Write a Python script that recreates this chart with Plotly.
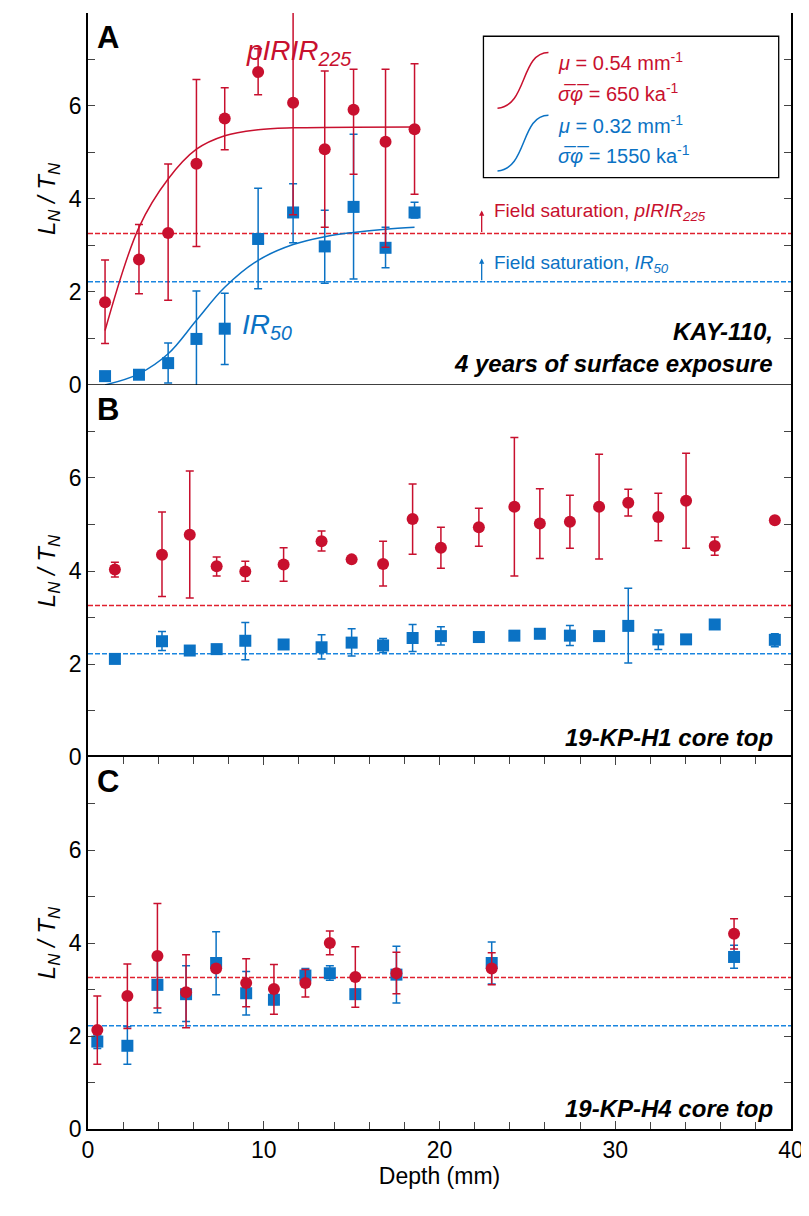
import plotly.graph_objects as go

RED = "#c8102e"
BLUE = "#0b72c4"
FONT = "Liberation Sans"

# Panel A: KAY-110
a_depth = [0.97, 2.9, 4.56, 6.17, 7.78, 9.68, 11.67, 13.47, 15.11, 16.93, 18.58]
a_red = [1.78, 2.70, 3.27, 4.76, 5.73, 6.73, 6.07, 5.07, 5.92, 5.23, 5.50]
a_red_hi = [2.69, 3.45, 4.75, 6.57, 6.39, 7.23, 8.48, 6.75, 6.79, 6.79, 6.91]
a_red_lo = [0.89, 1.96, 1.82, 2.98, 5.06, 6.24, 3.66, 3.39, 4.53, 2.96, 4.10]
a_blue = [0.19, 0.22, 0.47, 0.99, 1.21, 3.14, 3.71, 2.98, 3.83, 2.95, 3.71]
a_blue_hi = [0.19, 0.22, 0.90, 2.02, 1.97, 4.23, 4.33, 3.76, 5.39, 3.39, 3.93]
a_blue_lo = [0.19, 0.22, 0.04, -0.04, 0.44, 2.07, 3.06, 2.19, 2.28, 2.52, 3.59]

# fitted curves
fit_red_x = [0.97, 2.9, 4.56, 6.17, 7.78, 9.68, 11.67, 18.58]
fit_red_y = [1.17, 3.39, 4.43, 5.07, 5.36, 5.49, 5.53, 5.55]
fit_blue_x = [0.97, 2.9, 4.56, 6.17, 7.78, 9.68, 11.67, 13.47, 15.11, 16.93, 18.58]
fit_blue_y = [0.0, 0.24, 0.67, 1.39, 2.10, 2.68, 3.02, 3.19, 3.28, 3.35, 3.39]

# Panel B: 19-KP-H1
b_depth = [1.53, 4.21, 5.79, 7.32, 8.95, 11.13, 13.29, 15.0, 16.79, 18.47, 20.08,
           22.24, 24.26, 25.71, 27.42, 29.08, 30.74, 32.45, 34.03, 35.66, 39.08]
b_red = [4.03, 4.35, 4.78, 4.10, 3.99, 4.14, 4.64, 4.25, 4.15, 5.12, 4.50,
         4.94, 5.38, 5.02, 5.06, 5.38, 5.47, 5.16, 5.51, 4.54, 5.09]
b_red_hi = [4.19, 5.27, 6.15, 4.30, 4.21, 4.50, 4.86, 4.25, 4.64, 5.87, 4.94,
            5.35, 6.87, 5.77, 5.63, 6.51, 5.76, 5.67, 6.53, 4.73, 5.09]
b_red_lo = [3.87, 3.45, 3.42, 3.89, 3.78, 3.78, 4.43, 4.25, 3.68, 4.36, 4.06,
            4.53, 3.89, 4.27, 4.49, 4.26, 5.18, 4.65, 4.49, 4.34, 5.09]
b_blue = [2.11, 2.49, 2.29, 2.32, 2.50, 2.42, 2.36, 2.46, 2.40, 2.56, 2.60,
          2.58, 2.61, 2.65, 2.61, 2.60, 2.82, 2.53, 2.53, 2.85, 2.52]
b_blue_hi = [2.11, 2.70, 2.39, 2.40, 2.89, 2.50, 2.63, 2.76, 2.55, 2.85, 2.80,
             2.58, 2.61, 2.65, 2.83, 2.60, 3.63, 2.73, 2.53, 2.85, 2.65]
b_blue_lo = [2.11, 2.29, 2.19, 2.24, 2.09, 2.34, 2.11, 2.17, 2.25, 2.27, 2.41,
             2.58, 2.61, 2.65, 2.40, 2.60, 2.02, 2.31, 2.53, 2.85, 2.37]

# Panel C: 19-KP-H4
c_depth = [0.53, 2.24, 3.95, 5.58, 7.29, 9.0, 10.58, 12.37, 13.76, 15.21, 17.55, 22.97, 36.76]
c_red = [2.13, 2.86, 3.72, 2.94, 3.45, 3.14, 3.01, 3.14, 4.00, 3.27, 3.35, 3.45, 4.20]
c_red_hi = [2.86, 3.55, 4.85, 3.75, 3.45, 3.66, 3.54, 3.43, 4.26, 3.92, 3.80, 3.79, 4.52]
c_red_lo = [1.39, 2.16, 2.60, 2.18, 3.45, 2.63, 2.47, 2.84, 3.75, 2.62, 2.91, 3.10, 3.87]
c_blue = [1.88, 1.79, 3.10, 2.90, 3.57, 2.92, 2.78, 3.30, 3.35, 2.90, 3.32, 3.57, 3.70]
c_blue_hi = [2.02, 2.20, 3.70, 3.51, 4.24, 3.39, 2.88, 3.45, 3.51, 3.00, 3.93, 4.02, 3.95]
c_blue_lo = [1.73, 1.39, 2.50, 2.31, 2.89, 2.45, 2.68, 3.15, 3.20, 2.80, 2.71, 3.12, 3.46]

sat_red = 3.26
sat_blue = 2.22

fig = go.Figure()


def add_points(x, y, hi, lo, color, symbol, ax):
    fig.add_trace(go.Scatter(
        x=x, y=y, mode="markers", xaxis="x", yaxis=ax,
        marker=dict(color=color, symbol=symbol, size=12),
        error_y=dict(type="data", symmetric=False,
                     array=[h - v for h, v in zip(hi, y)],
                     arrayminus=[v - l for v, l in zip(y, lo)],
                     color=color, thickness=1.5, width=4),
        showlegend=False, cliponaxis=True))


panels = [("y", a_depth, a_red, a_red_hi, a_red_lo, a_blue, a_blue_hi, a_blue_lo),
          ("y2", b_depth, b_red, b_red_hi, b_red_lo, b_blue, b_blue_hi, b_blue_lo),
          ("y3", c_depth, c_red, c_red_hi, c_red_lo, c_blue, c_blue_hi, c_blue_lo)]

for ax, d, r, rh, rl, b, bh, bl in panels:
    for val, col in [(sat_red, "#e0202e"), (sat_blue, "#1a86e0")]:
        fig.add_trace(go.Scatter(x=[0, 40], y=[val, val], mode="lines", xaxis="x", yaxis=ax,
                                 line=dict(color=col, width=1.5, dash="5px,2px"), showlegend=False))
    if ax == "y":
        fig.add_trace(go.Scatter(x=fit_red_x, y=fit_red_y, mode="lines", line_shape="spline",
                                 line=dict(color=RED, width=1.5), xaxis="x", yaxis=ax, showlegend=False))
        fig.add_trace(go.Scatter(x=fit_blue_x, y=fit_blue_y, mode="lines", line_shape="spline",
                                 line=dict(color=BLUE, width=1.5), xaxis="x", yaxis=ax, showlegend=False))
    add_points(d, b, bh, bl, BLUE, "square", ax)
    add_points(d, r, rh, rl, RED, "circle", ax)

yax = dict(range=[0, 8], tickvals=[0, 2, 4, 6], ticks="inside", ticklen=7, tickwidth=1.2,
           minor=dict(dtick=1, ticks="inside", ticklen=7, tickwidth=1.2),
           showline=True, linecolor="black", linewidth=1.5, mirror="ticks",
           showgrid=False, zeroline=False, tickfont=dict(size=23, family=FONT),
           title=dict(text="<i>L<sub>N</sub> / T<sub>N</sub></i>", font=dict(size=24, family=FONT),
                      standoff=6))

fig.update_layout(
    width=809, height=1216, plot_bgcolor="white", paper_bgcolor="white",
    margin=dict(l=80, r=26, t=5, b=95),
    font=dict(family=FONT, color="black"),
    xaxis=dict(range=[0, 40], dtick=10, ticks="inside", ticklen=8, tickwidth=1.2,
               minor=dict(dtick=2, ticks="inside", ticklen=7, tickwidth=1.2),
               showline=True, linecolor="black", linewidth=1.5, mirror="ticks",
               showgrid=False, zeroline=False, anchor="y3",
               tickfont=dict(size=23, family=FONT),
               title=dict(text="Depth (mm)", font=dict(size=23, family=FONT), standoff=6)),
    yaxis=dict(yax, domain=[0.6667, 1.0]),
    yaxis2=dict(yax, domain=[0.3333, 0.6667]),
    yaxis3=dict(yax, domain=[0.0, 0.3333]),
)

# borders between stacked panels
for ax in ["y", "y2"]:
    fig.add_shape(type="line", xref="x", yref=ax, x0=0, x1=40, y0=0, y1=0,
                  line=dict(color="black", width=1.5))

ann = []
for ax, lab in [("y", "A"), ("y2", "B"), ("y3", "C")]:
    ann.append(dict(x=0.4, y=7.9, xref="x", yref=ax, text="<b>%s</b>" % lab, showarrow=False,
                    xanchor="left", yanchor="top", font=dict(size=31, family=FONT)))

ann += [
    dict(x=12.0, y=7.15, xref="x", yref="y", text="<i>pIRIR<sub>225</sub></i>", showarrow=False,
         font=dict(size=28, color=RED, family=FONT)),
    dict(x=10.2, y=1.25, xref="x", yref="y", text="<i>IR<sub>50</sub></i>", showarrow=False,
         font=dict(size=28, color=BLUE, family=FONT)),
    dict(x=39.1, y=1.14, xref="x", yref="y", text="<b><i>KAY-110,</i></b>", showarrow=False,
         xanchor="right", font=dict(size=24, family=FONT)),
    dict(x=39.1, y=0.47, xref="x", yref="y", text="<b><i>4 years of surface exposure</i></b>",
         showarrow=False, xanchor="right", font=dict(size=24, family=FONT)),
    dict(x=39.1, y=0.42, xref="x", yref="y2", text="<b><i>19-KP-H1 core top</i></b>",
         showarrow=False, xanchor="right", font=dict(size=24, family=FONT)),
    dict(x=39.1, y=0.45, xref="x", yref="y3", text="<b><i>19-KP-H4 core top</i></b>",
         showarrow=False, xanchor="right", font=dict(size=24, family=FONT)),
    dict(x=23.0, y=3.72, xref="x", yref="y", text="Field saturation, <i>pIRIR<sub>225</sub></i>",
         showarrow=False, xanchor="left", font=dict(size=19, color=RED, family=FONT)),
    dict(x=23.0, y=2.6, xref="x", yref="y", text="Field saturation, <i>IR<sub>50</sub></i>",
         showarrow=False, xanchor="left", font=dict(size=19, color=BLUE, family=FONT)),
    dict(x=22.4, y=3.75, ax=22.4, ay=sat_red, xref="x", yref="y", axref="x", ayref="y",
         text="", showarrow=True, arrowhead=2, arrowsize=0.8, arrowwidth=1.3, arrowcolor=RED),
    dict(x=22.4, y=2.72, ax=22.4, ay=sat_blue, xref="x", yref="y", axref="x", ayref="y",
         text="", showarrow=True, arrowhead=2, arrowsize=0.8, arrowwidth=1.3, arrowcolor=BLUE),
    dict(x=26.6, y=6.95, xref="x", yref="y", text="<i>μ</i> = 0.54 mm<sup>-1</sup>",
         showarrow=False, xanchor="left", font=dict(size=20, color=RED, family=FONT)),
    dict(x=26.6, y=6.3, xref="x", yref="y", text="<i>σ̅φ̅</i> = 650 ka<sup>-1</sup>",
         showarrow=False, xanchor="left", font=dict(size=20, color=RED, family=FONT)),
    dict(x=26.6, y=5.6, xref="x", yref="y", text="<i>μ</i> = 0.32 mm<sup>-1</sup>",
         showarrow=False, xanchor="left", font=dict(size=20, color=BLUE, family=FONT)),
    dict(x=26.6, y=4.95, xref="x", yref="y", text="<i>σ̅φ̅</i> = 1550 ka<sup>-1</sup>",
         showarrow=False, xanchor="left", font=dict(size=20, color=BLUE, family=FONT)),
]
fig.update_layout(annotations=ann)

# legend box with small sigmoid icons
fig.add_shape(type="rect", xref="x", yref="y", x0=22.5, x1=39.3, y0=4.46, y1=7.5,
              line=dict(color="black", width=1.3), fillcolor="white", layer="below")
fig.add_shape(type="path", xref="x", yref="y", path="M 23.3,5.95 C 25.0,6.0 24.6,7.15 26.2,7.15",
              line=dict(color=RED, width=1.5))
fig.add_shape(type="path", xref="x", yref="y", path="M 23.3,4.6 C 25.0,4.65 24.6,5.8 26.2,5.8",
              line=dict(color=BLUE, width=1.5))

fig.write_html("out.html")
